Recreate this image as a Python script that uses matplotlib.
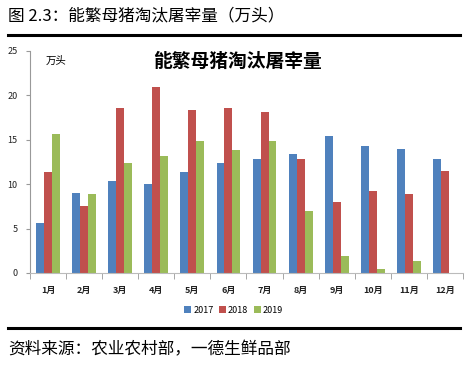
import numpy as np
import matplotlib
matplotlib.use('Agg')
import matplotlib.pyplot as plt

plt.rcParams['font.family'] = ['Noto Sans CJK SC', 'DejaVu Sans']

months = ['1月', '2月', '3月', '4月', '5月', '6月', '7月', '8月', '9月', '10月', '11月', '12月']
y2017 = [5.6, 9.0, 10.4, 10.0, 11.4, 12.4, 12.8, 13.4, 15.4, 14.3, 14.0, 12.8]
y2018 = [11.4, 7.6, 18.6, 21.0, 18.3, 18.6, 18.1, 12.8, 8.0, 9.2, 8.9, 11.5]
y2019 = [15.6, 8.9, 12.4, 13.2, 14.9, 13.9, 14.9, 7.0, 1.9, 0.5, 1.3, np.nan]
years = ['2017', '2018', '2019']
colors = ['#4F81BD', '#C0504D', '#9BBB59']

fig = plt.figure(figsize=(4.68, 3.65), dpi=100)

# header / footer around the chart
fig.text(8/468, 1-16/365, '图 2.3：能繁母猪淘汰屠宰量（万头）', fontsize=12, va='center', ha='left')
fig.add_artist(plt.Line2D([8/468, 460/468], [1-35/365, 1-35/365], color='black', lw=2.2))
fig.add_artist(plt.Line2D([8/468, 460/468], [1-328/365, 1-328/365], color='black', lw=2.2))
fig.text(8/468, 1-350/365, '资料来源：农业农村部，一德生鲜品部', fontsize=12, va='center', ha='left')

ax = fig.add_axes([30/468, 1-273/365, 433/468, 222/365])
x = np.arange(len(months))
w = 0.22
for i, (vals, c, lab) in enumerate(zip([y2017, y2018, y2019], colors, years)):
    ax.bar(x + (i-1)*w, vals, w, color=c, label=lab)

ax.set_xlim(-0.5, len(months)-0.5)
ax.set_ylim(0, 25)
ax.set_yticks([0, 5, 10, 15, 20, 25])
ax.set_xticks(x)
ax.set_xticklabels(months, fontsize=6.5, fontweight='bold', color='#222222')
ax.set_xticks(np.arange(-0.5, len(months), 1), minor=True)
ax.tick_params(axis='x', which='major', length=0, pad=9)
ax.tick_params(axis='x', which='minor', length=4, color='#999999')
ax.tick_params(axis='y', labelsize=6.5, length=3, color='#999999', pad=6, labelcolor='#222222')
for s in ['top', 'right']:
    ax.spines[s].set_visible(False)
ax.spines['left'].set_color('#999999')
ax.spines['bottom'].set_color('#bbbbbb')

ax.text(0.06, 0.955, '万头', transform=ax.transAxes, fontsize=7.5, va='center', ha='center')
ax.text(0.48, 0.955, '能繁母猪淘汰屠宰量', transform=ax.transAxes, fontsize=13.5,
        fontweight='bold', va='center', ha='center')

ax.legend(loc='upper center', bbox_to_anchor=(0.47, -0.11), ncol=3, frameon=False,
          fontsize=6.5, handlelength=0.8, handleheight=0.8, handletextpad=0.2,
          columnspacing=0.6)

fig.savefig('out.png', dpi=100)
